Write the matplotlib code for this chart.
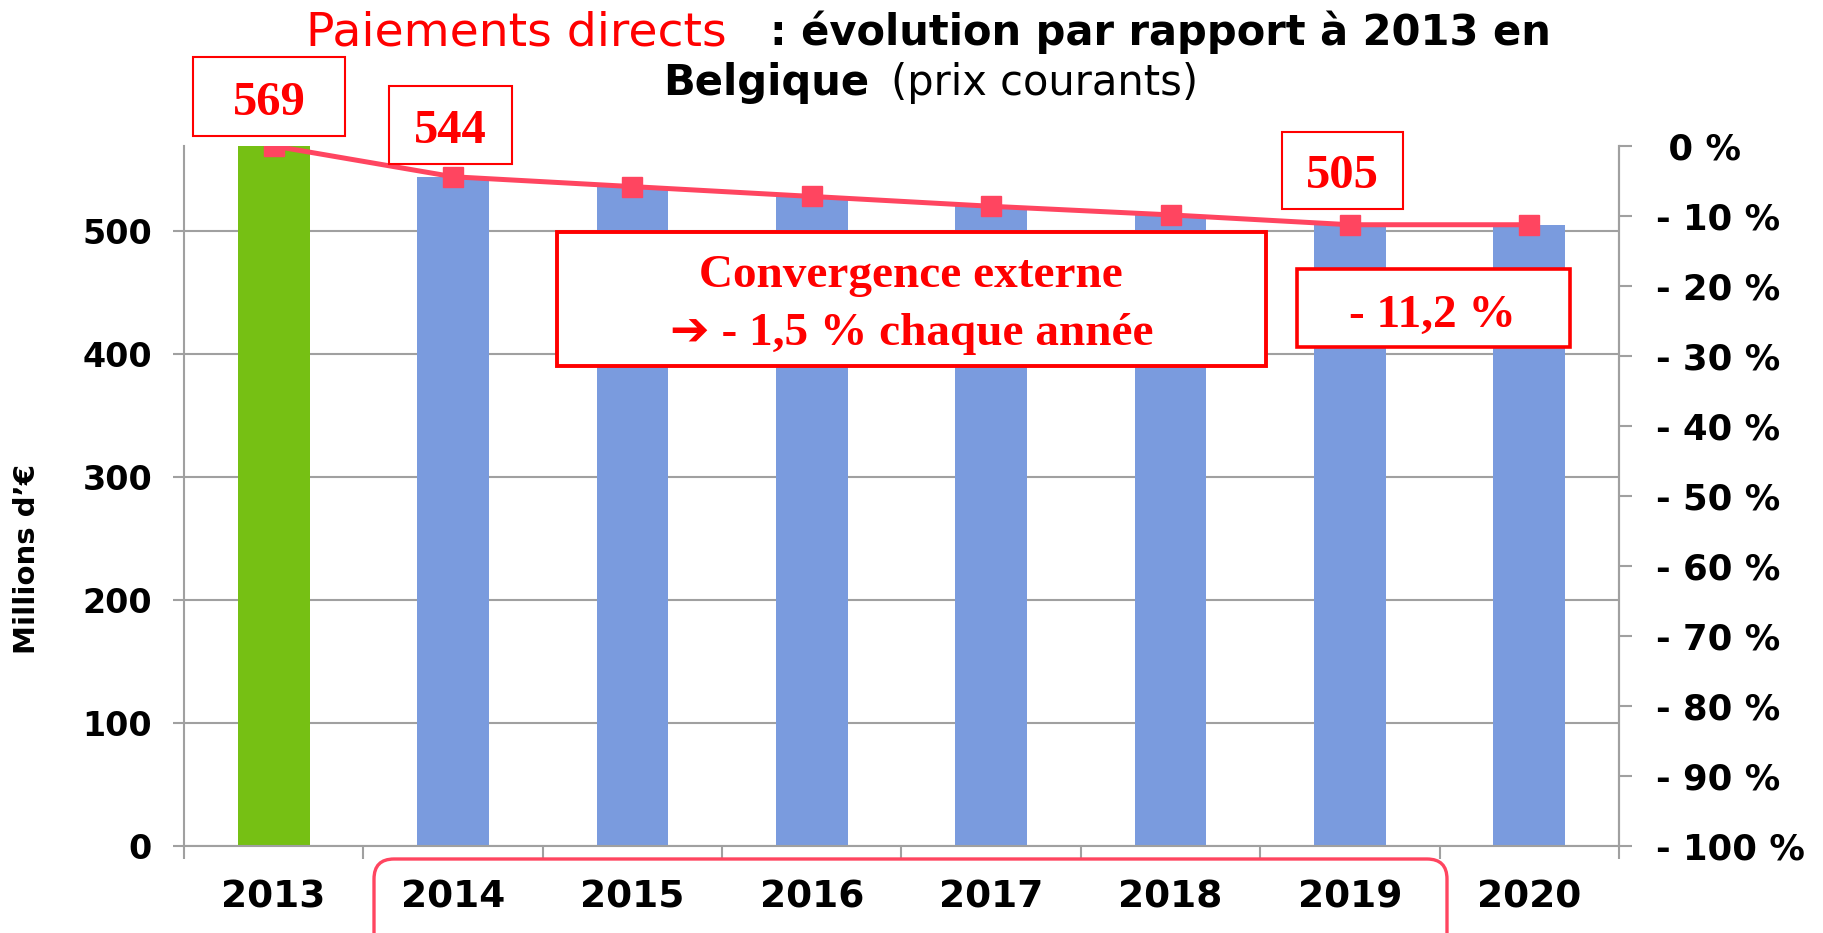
import matplotlib
matplotlib.use("Agg")
import matplotlib.pyplot as plt
from matplotlib.patches import Rectangle, FancyBboxPatch
from matplotlib.transforms import IdentityTransform

annees = ["2013", "2014", "2015", "2016", "2017", "2018", "2019", "2020"]
montants = [569, 544, 536, 528, 520, 513, 505, 505]  # millions d'euros
couleurs = ["#76C014", "#7A9BDE", "#7A9BDE", "#7A9BDE", "#7A9BDE", "#7A9BDE", "#7A9BDE", "#7A9BDE"]
evolution = [(m / montants[0] - 1) * 100 for m in montants]  # % par rapport a 2013

pct_ticks = list(range(-100, 1, 10))
pct_labels = [" 0 %" if p == 0 else "- %d %%" % abs(p) for p in pct_ticks]

W, H = 1824, 933
GRIS = "#A0A0A0"
ROUGE = "#FF0000"
ROSE = "#FF4560"

fig = plt.figure(figsize=(W / 100, H / 100), dpi=100)
ax = fig.add_axes([184 / W, 1 - 846 / H, (1619 - 184) / W, 700 / H])

x = list(range(len(annees)))
ax.bar(x, montants, width=0.4, color=couleurs, zorder=2)
ax.set_xlim(-0.5, len(annees) - 0.5)
ax.set_ylim(0, montants[0])
ax.set_yticks(range(0, 600, 100))
ax.set_yticklabels([str(v) for v in range(0, 600, 100)], fontsize=24, fontweight="bold")
ax.yaxis.grid(True, color=GRIS, linewidth=1.5)
ax.set_axisbelow(True)
ax.tick_params(axis="y", length=8, width=1.5, color=GRIS, pad=15)

ax.set_xticks(x)
ax.set_xticklabels(annees, fontsize=27, fontweight="bold")
ax.set_xticks([i - 0.5 for i in range(len(annees) + 1)], minor=True)
ax.tick_params(axis="x", which="major", length=0, pad=24)
ax.tick_params(axis="x", which="minor", length=9, width=1.5, color=GRIS)

for s in ["left", "bottom", "right"]:
    ax.spines[s].set_color(GRIS)
    ax.spines[s].set_linewidth(1.5)
ax.spines["top"].set_visible(False)

ax2 = ax.twinx()
ax2.plot(x, evolution, color=ROSE, linewidth=3.6, marker="s", markersize=15, zorder=3)
ax2.set_ylim(-100, 0)
ax2.set_yticks(pct_ticks)
ax2.set_yticklabels(pct_labels, fontsize=25.5, fontweight="bold")
ax2.tick_params(axis="y", length=9, width=1.5, color=GRIS, pad=18)
ax2.spines["right"].set_color(GRIS)
ax2.spines["right"].set_linewidth(1.5)
for s in ["left", "top", "bottom"]:
    ax2.spines[s].set_visible(False)


def fx(px):
    return px / W


def fy(py):
    return 1 - py / H


# titre
fig.text(fx(306), fy(45), "Paiements directs", color=ROUGE, fontsize=34, va="baseline")
fig.text(fx(770), fy(45), ": évolution par rapport à 2013 en", fontsize=30,
         fontweight="bold", va="baseline")
fig.text(fx(663), fy(95), "Belgique", fontsize=30, fontweight="bold", va="baseline")
fig.text(fx(891), fy(95), "(prix courants)", fontsize=30, va="baseline")

fig.text(fx(27), fy(559), "Millions d\u2019\u20ac", rotation=90, fontsize=21,
         fontweight="bold", ha="center", va="center")


def cadre(x0, y0, x1, y1, lw):
    fig.patches.append(Rectangle((fx(x0), fy(y1)), fx(x1) - fx(x0), fy(y0) - fy(y1),
                                 transform=fig.transFigure, facecolor="white",
                                 edgecolor=ROUGE, linewidth=lw, zorder=4))


serif = ["Liberation Serif", "DejaVu Sans"]

cadre(193, 57, 345, 136, 1.5)
fig.text(fx(269), fy(115), "569", family=serif, fontweight="bold", fontsize=35,
         color=ROUGE, ha="center", va="baseline", zorder=5)
cadre(389, 86, 512, 164, 1.5)
fig.text(fx(450), fy(143), "544", family=serif, fontweight="bold", fontsize=35,
         color=ROUGE, ha="center", va="baseline", zorder=5)
cadre(1282, 132, 1403, 209, 1.5)
fig.text(fx(1342), fy(188), "505", family=serif, fontweight="bold", fontsize=35,
         color=ROUGE, ha="center", va="baseline", zorder=5)
cadre(1297, 269, 1570, 347, 2.6)
fig.text(fx(1432), fy(327), "- 11,2 %", family=serif, fontweight="bold", fontsize=34,
         color=ROUGE, ha="center", va="baseline", zorder=5)
cadre(557, 232, 1266, 366, 2.8)
fig.text(fx(911), fy(287), "Convergence externe", family=serif, fontweight="bold",
         fontsize=34, color=ROUGE, ha="center", va="baseline", zorder=5)
fig.text(fx(912), fy(345), "\u2794 - 1,5 % chaque année", family=serif, fontweight="bold",
         fontsize=34, color=ROUGE, ha="center", va="baseline", zorder=5)

# cadre arrondi autour de 2014-2019
fig.patches.append(FancyBboxPatch((374, H - 960), 1447 - 374, 960 - 859,
                                  boxstyle="round,pad=0,rounding_size=20",
                                  transform=IdentityTransform(), facecolor="none",
                                  edgecolor=ROSE, linewidth=2.4, zorder=4))

fig.savefig("out.png", dpi=100)
